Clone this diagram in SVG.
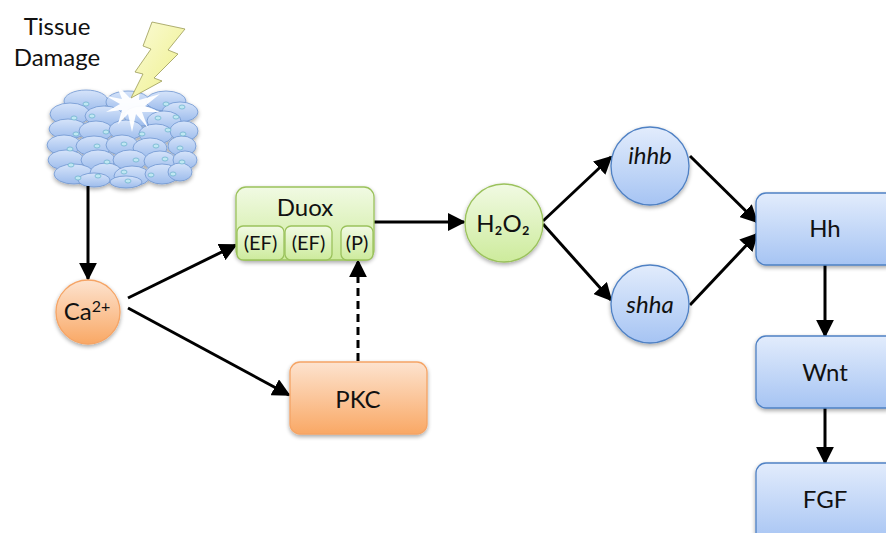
<svg xmlns="http://www.w3.org/2000/svg" width="886" height="533" viewBox="0 0 886 533">
  <defs>
    <linearGradient id="gOrange" x1="0" y1="0" x2="0" y2="1">
      <stop offset="0" stop-color="#fde3cf"/>
      <stop offset="1" stop-color="#f9a865"/>
    </linearGradient>
    <linearGradient id="gGreen" x1="0" y1="0" x2="0" y2="1">
      <stop offset="0" stop-color="#f1fae3"/>
      <stop offset="1" stop-color="#cdeb9c"/>
    </linearGradient>
    <linearGradient id="gBlue" x1="0" y1="0" x2="0" y2="1">
      <stop offset="0" stop-color="#e2ecfc"/>
      <stop offset="1" stop-color="#a6c4f3"/>
    </linearGradient>
    <linearGradient id="gCell" x1="0" y1="0" x2="0" y2="1">
      <stop offset="0" stop-color="#d6e4fa"/>
      <stop offset="1" stop-color="#9dbcec"/>
    </linearGradient>
    <linearGradient id="gBolt" x1="0" y1="0" x2="1" y2="1">
      <stop offset="0" stop-color="#fbfbd8"/>
      <stop offset="1" stop-color="#eef08a"/>
    </linearGradient>
    <filter id="shadow" x="-20%" y="-20%" width="140%" height="150%">
      <feGaussianBlur in="SourceAlpha" stdDeviation="2"/>
      <feOffset dx="0" dy="2" result="b"/>
      <feComponentTransfer><feFuncA type="linear" slope="0.35"/></feComponentTransfer>
      <feMerge><feMergeNode/><feMergeNode in="SourceGraphic"/></feMerge>
    </filter>
    <marker id="arrow" viewBox="0 0 10 10" refX="9" refY="5" markerWidth="6" markerHeight="6" orient="auto" markerUnits="strokeWidth">
      <path d="M0,0 L10,5 L0,10 z" fill="#000"/>
    </marker>
  </defs>
  <style>
    text { font-family: Lato, "Open Sans", "Liberation Sans", sans-serif; fill: #111; text-anchor: middle; }
    .lbl { font-size: 24px; }
    .sub { font-size: 20px; }
    .it { font-style: italic; }
    .orange { fill: url(#gOrange); stroke: #f5a465; stroke-width: 1.3; }
    .green { fill: url(#gGreen); stroke: #9bc25c; stroke-width: 1.3; }
    .blue { fill: url(#gBlue); stroke: #4f81c4; stroke-width: 1.3; }
    .cell { fill: url(#gCell); stroke: #6f96d0; stroke-width: 0.8; }
    .nuc { fill: #bfe7f2; stroke: #5aa6c4; stroke-width: 0.6; }
    .edge { stroke: #000; stroke-width: 3; fill: none; marker-end: url(#arrow); }
    .dash { stroke-dasharray: 8 5; }
  </style>

  <!-- tissue with injury -->
  <g id="tissue">
    <text class="lbl" x="57" y="35">Tissue</text>
    <text class="lbl" x="57" y="66">Damage</text>
    <g filter="url(#shadow)">
      <ellipse class="cell" cx="86" cy="101" rx="22" ry="11"/>
      <ellipse class="cell" cx="128" cy="102" rx="22" ry="11"/>
      <ellipse class="cell" cx="166" cy="101" rx="20" ry="10"/>
      <ellipse class="cell" cx="180" cy="112" rx="18" ry="10"/>
      <ellipse class="cell" cx="70" cy="114" rx="20" ry="11"/>
      <ellipse class="cell" cx="104" cy="116" rx="19" ry="10"/>
      <ellipse class="cell" cx="142" cy="116" rx="18" ry="10"/>
      <ellipse class="cell" cx="164" cy="121" rx="17" ry="10"/>
      <ellipse class="cell" cx="68" cy="129" rx="19" ry="10"/>
      <ellipse class="cell" cx="96" cy="131" rx="17" ry="10"/>
      <ellipse class="cell" cx="126" cy="130" rx="17" ry="10"/>
      <ellipse class="cell" cx="156" cy="134" rx="17" ry="10"/>
      <ellipse class="cell" cx="184" cy="131" rx="14" ry="10"/>
      <ellipse class="cell" cx="64" cy="145" rx="17" ry="10"/>
      <ellipse class="cell" cx="94" cy="146" rx="18" ry="10"/>
      <ellipse class="cell" cx="122" cy="145" rx="16" ry="10"/>
      <ellipse class="cell" cx="150" cy="148" rx="17" ry="10"/>
      <ellipse class="cell" cx="182" cy="146" rx="14" ry="10"/>
      <ellipse class="cell" cx="66" cy="160" rx="18" ry="10"/>
      <ellipse class="cell" cx="98" cy="160" rx="17" ry="10"/>
      <ellipse class="cell" cx="130" cy="160" rx="17" ry="10"/>
      <ellipse class="cell" cx="160" cy="161" rx="16" ry="10"/>
      <ellipse class="cell" cx="185" cy="160" rx="12" ry="9"/>
      <ellipse class="cell" cx="74" cy="174" rx="20" ry="10"/>
      <ellipse class="cell" cx="106" cy="173" rx="16" ry="10"/>
      <ellipse class="cell" cx="132" cy="176" rx="18" ry="10"/>
      <ellipse class="cell" cx="162" cy="174" rx="17" ry="10"/>
      <ellipse class="cell" cx="180" cy="172" rx="12" ry="9"/>
      <ellipse class="cell" cx="94" cy="180" rx="16" ry="7"/>
      <ellipse class="cell" cx="126" cy="182" rx="16" ry="6"/>
    </g>
    <!-- nuclei -->
    <g>
      <ellipse class="nuc" cx="86" cy="104" rx="3" ry="2"/>
      <ellipse class="nuc" cx="166" cy="104" rx="3" ry="2"/>
      <ellipse class="nuc" cx="182" cy="107" rx="3" ry="2"/>
      <ellipse class="nuc" cx="74" cy="118" rx="3" ry="2"/>
      <ellipse class="nuc" cx="92" cy="116" rx="3" ry="2"/>
      <ellipse class="nuc" cx="158" cy="118" rx="3" ry="2"/>
      <ellipse class="nuc" cx="176" cy="117" rx="3" ry="2"/>
      <ellipse class="nuc" cx="76" cy="134" rx="3" ry="2"/>
      <ellipse class="nuc" cx="106" cy="132" rx="3" ry="2"/>
      <ellipse class="nuc" cx="142" cy="134" rx="3" ry="2"/>
      <ellipse class="nuc" cx="168" cy="130" rx="3" ry="2"/>
      <ellipse class="nuc" cx="183" cy="134" rx="3" ry="2"/>
      <ellipse class="nuc" cx="70" cy="149" rx="3" ry="2"/>
      <ellipse class="nuc" cx="97" cy="146" rx="3" ry="2"/>
      <ellipse class="nuc" cx="124" cy="144" rx="3" ry="2"/>
      <ellipse class="nuc" cx="156" cy="146" rx="3" ry="2"/>
      <ellipse class="nuc" cx="180" cy="148" rx="3" ry="2"/>
      <ellipse class="nuc" cx="71" cy="165" rx="3" ry="2"/>
      <ellipse class="nuc" cx="107" cy="162" rx="3" ry="2"/>
      <ellipse class="nuc" cx="136" cy="160" rx="3" ry="2"/>
      <ellipse class="nuc" cx="165" cy="159" rx="3" ry="2"/>
      <ellipse class="nuc" cx="182" cy="162" rx="3" ry="2"/>
      <ellipse class="nuc" cx="78" cy="178" rx="3" ry="2"/>
      <ellipse class="nuc" cx="98" cy="176" rx="3" ry="2"/>
      <ellipse class="nuc" cx="124" cy="172" rx="3" ry="2"/>
      <ellipse class="nuc" cx="128" cy="181" rx="3" ry="2"/>
      <ellipse class="nuc" cx="151" cy="175" rx="3" ry="2"/>
      <ellipse class="nuc" cx="173" cy="174" rx="3" ry="2"/>
    </g>
    <!-- impact burst -->
    <polygon fill="#ffffff" opacity="0.95" points="130,98 140,86 139,100 160,94 145,106 160,112 142,112 148,128 136,114 132,132 128,114 118,124 122,110 106,112 120,104 106,96 122,99 116,84"/>
    <!-- lightning bolt -->
    <polygon fill="url(#gBolt)" stroke="#9a9a55" stroke-width="0.8" points="152,22 185,29 168,50 178,54 154,78 162,81 131,98 143,74 135,72 151,49 143,46"/>
  </g>

  <!-- connectors -->
  <g id="connectors">
    <line class="edge" x1="88" y1="186" x2="88" y2="279"/>
    <line class="edge" x1="128" y1="298" x2="236" y2="245"/>
    <line class="edge" x1="128" y1="308" x2="289" y2="395"/>
    <line class="edge" x1="374" y1="222" x2="464" y2="222"/>
    <line class="edge" x1="543" y1="221" x2="611" y2="157"/>
    <line class="edge" x1="543" y1="224" x2="611" y2="300"/>
    <line class="edge" x1="690" y1="156" x2="757" y2="222"/>
    <line class="edge" x1="690" y1="305" x2="757" y2="234"/>
    <line class="edge" x1="825" y1="265" x2="825" y2="336"/>
    <line class="edge" x1="825" y1="408" x2="825" y2="463"/>
    <line class="edge dash" x1="358" y1="361" x2="358" y2="261"/>
  </g>

  <g id="ca">
    <circle class="orange" cx="88" cy="312" r="32" filter="url(#shadow)"/>
    <text class="lbl" x="87" y="320">Ca<tspan font-size="16" dy="-8">2+</tspan></text>
  </g>

  <g id="duox">
    <rect class="green" x="236" y="187" width="138" height="73" rx="10" filter="url(#shadow)"/>
    <text class="lbl" x="305" y="216">Duox</text>
    <rect class="green" x="237" y="226" width="47" height="34" rx="6"/>
    <text class="sub" x="260.5" y="250">(EF)</text>
    <rect class="green" x="285" y="226" width="47" height="34" rx="6"/>
    <text class="sub" x="308.5" y="250">(EF)</text>
    <rect class="green" x="341" y="226" width="32" height="34" rx="6"/>
    <text class="sub" x="357" y="250">(P)</text>
  </g>

  <g id="pkc">
    <rect class="orange" x="290" y="362" width="137" height="72" rx="10" filter="url(#shadow)"/>
    <text class="lbl" x="358" y="408">PKC</text>
  </g>

  <g id="h2o2">
    <circle class="green" cx="504" cy="223" r="39" filter="url(#shadow)"/>
    <text class="lbl" x="503" y="232">H₂O₂</text>
  </g>

  <g id="ihhb">
    <circle class="blue" cx="650" cy="166" r="39" filter="url(#shadow)"/>
    <text class="lbl it" x="650" y="164">ihhb</text>
  </g>

  <g id="shha">
    <circle class="blue" cx="650" cy="304" r="39" filter="url(#shadow)"/>
    <text class="lbl it" x="650" y="313">shha</text>
  </g>

  <g id="hh">
    <rect class="blue" x="756" y="193" width="140" height="72" rx="10" filter="url(#shadow)"/>
    <text class="lbl" x="825" y="237">Hh</text>
  </g>

  <g id="wnt">
    <rect class="blue" x="756" y="336" width="140" height="72" rx="10" filter="url(#shadow)"/>
    <text class="lbl" x="825" y="381">Wnt</text>
  </g>

  <g id="fgf">
    <rect class="blue" x="756" y="463" width="140" height="80" rx="10" filter="url(#shadow)"/>
    <text class="lbl" x="825" y="508">FGF</text>
  </g>
</svg>
